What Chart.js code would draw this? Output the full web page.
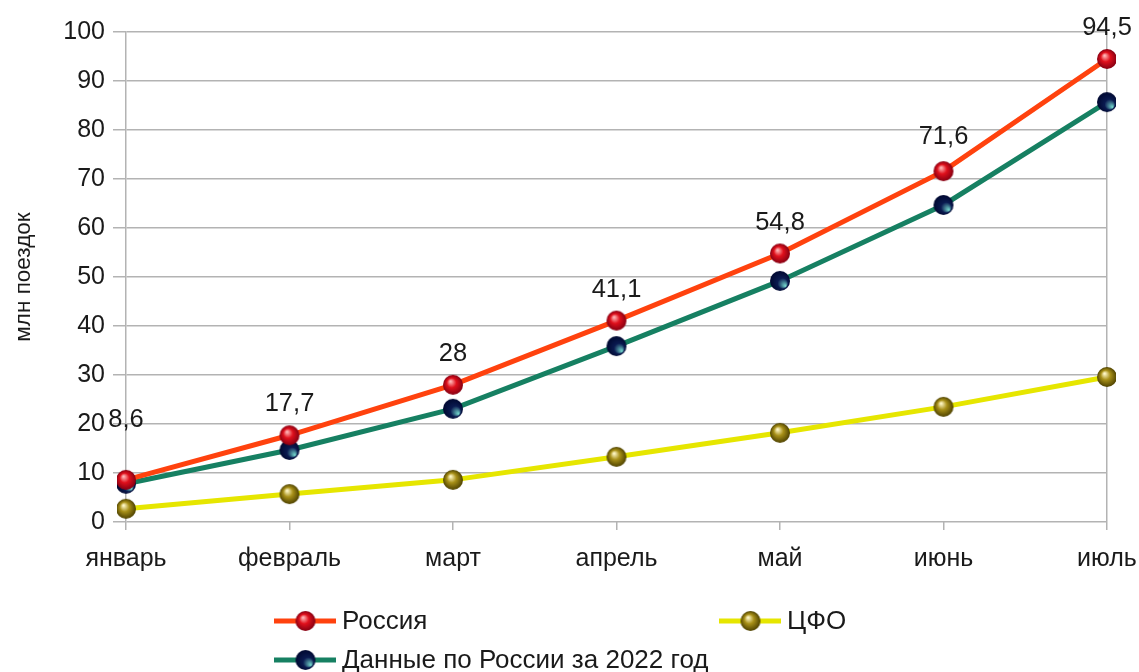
<!DOCTYPE html>
<html>
<head>
<meta charset="utf-8">
<script src="https://cdn.jsdelivr.net/npm/chart.js@4"></script>
<style>
  html, body { margin: 0; padding: 0; background: #fff; }
  #wrap { position: relative; width: 1139px; height: 672px; }
  .leg { position: absolute; display: flex; align-items: center; font: 26px "Liberation Sans", Arial, sans-serif; color: #1a1a1a; }
  .leg canvas { margin-right: 6px; }
</style>
</head>
<body>
<div id="wrap">
  <canvas id="chart" width="1139" height="672"></canvas>
  <div class="leg" id="leg0" style="left:274px; top:605px;"></div>
  <div class="leg" id="leg1" style="left:719px; top:605px;"></div>
  <div class="leg" id="leg2" style="left:274px; top:644px;"></div>
</div>
<script>
// Data
const months = ['январь', 'февраль', 'март', 'апрель', 'май', 'июнь', 'июль'];
const russia = [8.6, 17.7, 28, 41.1, 54.8, 71.6, 94.5];
const cfo = [2.7, 5.7, 8.6, 13.3, 18.2, 23.5, 29.6];
const russia2022 = [7.8, 14.7, 23.1, 35.9, 49.2, 64.7, 85.7];
const seriesNames = ['Россия', 'ЦФО', 'Данные по России за 2022 год'];
const yTicks = [0, 10, 20, 30, 40, 50, 60, 70, 80, 90, 100];

const FONT = '"Liberation Sans", Arial, sans-serif';

// draw a shaded ball for markers
function sphere(light, base, dark, r) {
    const c = document.createElement('canvas');
    c.width = c.height = 2 * r + 2;
    const g = c.getContext('2d');
    const grad = g.createRadialGradient(r * 0.75 + 1, r * 0.65 + 1, 0.5, r + 1, r + 1, r);
    grad.addColorStop(0, light);
    grad.addColorStop(0.45, base);
    grad.addColorStop(1, dark);
    g.fillStyle = grad;
    g.beginPath();
    g.arc(r + 1, r + 1, r, 0, Math.PI * 2);
    g.fill();
    return c;
}

const redBall = sphere('#ffb8b8', '#e0101c', '#850012', 10);
const yellowBall = sphere('#fff8c8', '#a89018', '#4e4200', 10);
const navyBall = (function () {
    const r = 10;
    const c = document.createElement('canvas');
    c.width = c.height = 2 * r + 2;
    const g = c.getContext('2d');
    const grad = g.createRadialGradient(r * 1.55 + 1, r * 1.5 + 1, 0.5, r + 1, r + 1, r);
    grad.addColorStop(0, '#70d0c8');
    grad.addColorStop(0.5, '#0a1a50');
    grad.addColorStop(1, '#000830');
    g.fillStyle = grad;
    g.beginPath();
    g.arc(r + 1, r + 1, r, 0, Math.PI * 2);
    g.fill();
    return c;
})();

const lineColors = ['#ff420e', '#e6e600', '#168062'];
const balls = [redBall, yellowBall, navyBall];

// legend swatches
seriesNames.forEach((name, i) => {
    const el = document.getElementById('leg' + i);
    const c = document.createElement('canvas');
    c.width = 62; c.height = 22;
    const g = c.getContext('2d');
    g.strokeStyle = lineColors[i];
    g.lineWidth = 5;
    g.beginPath(); g.moveTo(0, 11); g.lineTo(62, 11); g.stroke();
    const b = balls[i];
    g.drawImage(b, 31 - b.width / 2 + 0.5, 11 - b.height / 2);
    el.appendChild(c);
    const s = document.createElement('span');
    s.textContent = name;
    el.appendChild(s);
});

// value labels above the Россия series
const labelOffsets = [60, 31, 31, 31, 31, 34, 31];
const valueLabels = {
    id: 'valueLabels',
    afterDatasetsDraw(chart) {
        const c = chart.ctx;
        const meta = chart.getDatasetMeta(0);
        c.save();
        c.font = '25.5px ' + FONT;
        c.fillStyle = '#1a1a1a';
        c.textAlign = 'center';
        c.textBaseline = 'middle';
        meta.data.forEach((pt, i) => {
            c.fillText(String(russia[i]).replace('.', ','), pt.x, pt.y - labelOffsets[i]);
        });
        c.restore();
    }
};

const gridGray = '#b3b3b3';

new Chart(document.getElementById('chart'), {
    type: 'line',
    data: {
        labels: months,
        datasets: [
            { label: seriesNames[0], data: russia, borderColor: lineColors[0], borderWidth: 5, pointStyle: redBall, order: 0 },
            { label: seriesNames[1], data: cfo, borderColor: lineColors[1], borderWidth: 5, pointStyle: yellowBall, order: 2 },
            { label: seriesNames[2], data: russia2022, borderColor: lineColors[2], borderWidth: 5, pointStyle: navyBall, order: 1 }
        ]
    },
    options: {
        responsive: false,
        animation: false,
        events: [],
        layout: { padding: { top: 32, right: 32, bottom: 100, left: 0 } },
        plugins: {
            legend: { display: false },
            tooltip: { enabled: false }
        },
        elements: { line: { tension: 0 } },
        scales: {
            x: {
                offset: false,
                grid: {
                    color: (ctx) => ctx.index === months.length - 1 ? gridGray : 'transparent',
                    tickColor: gridGray,
                    tickLength: 8,
                    lineWidth: 1.5
                },
                border: { display: false },
                ticks: { color: '#1a1a1a', font: { family: FONT, size: 25 }, padding: 14, maxRotation: 0 },
                afterFit: (s) => { s.height = 50; s.paddingRight = 0; s.paddingLeft = 0; }
            },
            y: {
                min: 0,
                max: 100,
                afterBuildTicks: (s) => { s.ticks = yTicks.map(v => ({ value: v })); },
                grid: { color: gridGray, tickColor: gridGray, tickLength: 13, lineWidth: 1.5 },
                border: { color: gridGray, width: 1.5 },
                ticks: { color: '#1a1a1a', font: { family: FONT, size: 25 }, padding: 8 },
                title: { display: true, text: 'млн поездок', color: '#1a1a1a', font: { family: FONT, size: 22.5 }, padding: { top: 10, bottom: 0 } },
                afterFit: (s) => { s.width = 126; }
            }
        }
    },
    plugins: [valueLabels]
});
</script>
</body>
</html>
